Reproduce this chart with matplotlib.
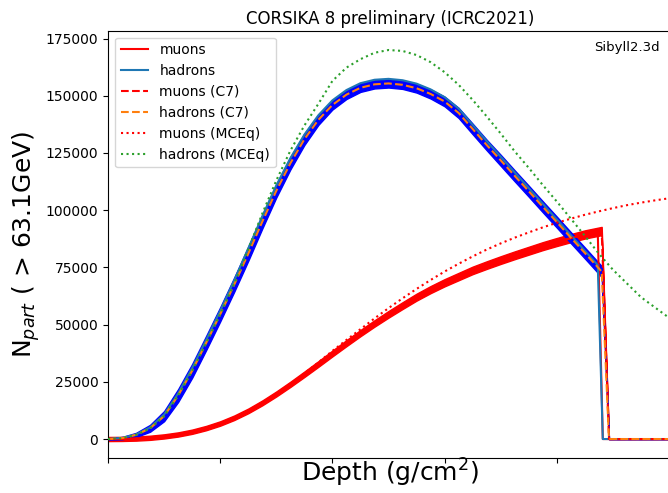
import matplotlib
matplotlib.use('Agg')
import matplotlib.pyplot as plt

# Configuración general
plt.rcParams['font.family'] = 'DejaVu Sans'
plt.rcParams['font.size'] = 10

# ============================================================================
# Datos
# ============================================================================
depth = [0, 25, 50, 75, 100, 125, 150, 175, 200, 225, 250, 275, 300, 325, 350,
         375, 400, 425, 450, 475, 500, 525, 550, 575, 600, 625, 650, 675, 700,
         725, 750, 775, 800, 825, 850]

# CORSIKA 8 (fin del perfil en el suelo)
depth_c8 = depth + [873, 882, 1005]
muons_c8 = [0, 50, 200, 550, 1150, 2000, 3200, 4800, 6800, 9300, 12300, 15800,
            19700, 23900, 28300, 32800, 37400, 41900, 46300, 50500, 54500,
            58300, 62000, 65300, 68300, 71000, 73700, 76000, 78200, 80300,
            82300, 84300, 86100, 87800, 89400, 90500, 0, 0]
hadrons_c8 = [0, 500, 2000, 5100, 10700, 19900, 31000, 43300, 56000, 69300,
              83300, 97300, 110800, 122700, 133000, 141500, 148000, 152500,
              155500, 157000, 157400, 156800, 155300, 152800, 149400, 144400,
              137300, 130200, 123400, 116500, 109700, 102800, 96000, 89100,
              82300, 76000, 0, 0]

# CORSIKA 7 (media y dispersión)
depth_c7 = depth + [880, 893, 1005]
muons_c7 = [0, 50, 200, 550, 1150, 2000, 3200, 4800, 6800, 9300, 12300, 15800,
            19700, 23900, 28300, 32800, 37400, 41900, 46300, 50500, 54500,
            58300, 62000, 65300, 68300, 71000, 73700, 76000, 78200, 80300,
            82300, 84300, 86100, 87800, 89400, 90900, 0, 0]
muons_c7_err = [900, 900, 900, 910, 910, 920, 930, 950, 960, 990, 1020, 1060,
                1100, 1140, 1190, 1230, 1280, 1320, 1360, 1400, 1450, 1480,
                1520, 1550, 1580, 1610, 1640, 1660, 1680, 1700, 1720, 1740,
                1760, 1780, 1790, 1800, 0, 0]
hadrons_c7 = [0, 400, 1800, 4700, 10000, 19000, 29800, 42000, 54500, 67500,
              81000, 95000, 108500, 120500, 131000, 139500, 146000, 150500,
              153500, 155000, 155400, 154800, 153300, 150800, 147500, 142500,
              135500, 128500, 121800, 115000, 108300, 101500, 94800, 88000,
              81300, 73200, 0, 0]
hadrons_c7_err = [300, 500, 900, 1500, 2200, 2800, 3000, 3100, 3100, 3100, 3100,
                  3000, 2900, 2700, 2500, 2200, 2000, 1900, 1800, 1800, 1800,
                  1800, 1900, 2000, 2100, 2200, 2300, 2300, 2400, 2400, 2400,
                  2400, 2400, 2400, 2400, 2400, 0, 0]

# MCEq
depth_mceq = [0, 25, 50, 75, 100, 125, 150, 175, 200, 225, 250, 275, 300, 325,
              350, 375, 400, 425, 450, 475, 500, 525, 550, 575, 600, 625, 650,
              675, 700, 725, 750, 775, 800, 825, 850, 875, 900, 925, 950, 975,
              1000]
muons_mceq = [0, 50, 200, 550, 1150, 2000, 3200, 4800, 6800, 9300, 12300, 15800,
              19800, 24100, 28700, 33500, 38500, 43300, 48000, 52700, 57200,
              61500, 65600, 69500, 73200, 76600, 79800, 82800, 85500, 88000,
              90300, 92500, 94500, 96300, 98000, 99500, 100900, 102200, 103300,
              104300, 105200]
hadrons_mceq = [0, 400, 1800, 4700, 10000, 19000, 29800, 42000, 54500, 67800,
                83000, 98500, 113000, 126000, 137000, 146500, 156500, 162300,
                166000, 168800, 170000, 169600, 167800, 164700, 160300, 154800,
                148200, 141000, 133500, 125700, 118500, 111000, 103800, 96300,
                88800, 81000, 74000, 68000, 62000, 57500, 53000]

# ============================================================================
# Gráfico
# ============================================================================
fig = plt.figure(figsize=(6.68, 4.93), dpi=100)
ax = fig.add_axes([0.1617, 0.070, 0.844, 0.868])

m_lo = [m - e for m, e in zip(muons_c7, muons_c7_err)]
m_hi = [m + e for m, e in zip(muons_c7, muons_c7_err)]
h_lo = [h - e for h, e in zip(hadrons_c7, hadrons_c7_err)]
h_hi = [h + e for h, e in zip(hadrons_c7, hadrons_c7_err)]

ax.plot(depth_c8, muons_c8, color='red', lw=1.5, label='muons', zorder=3)
ax.plot(depth_c8, hadrons_c8, color='C0', lw=1.5, label='hadrons', zorder=3)
ax.plot(depth_c7, muons_c7, 'r--', lw=1.5, label='muons (C7)', zorder=4)
ax.plot(depth_c7, hadrons_c7, color='C1', ls='--', lw=1.5,
        label='hadrons (C7)', zorder=4)
ax.plot(depth_mceq, muons_mceq, 'r:', lw=1.5, label='muons (MCEq)', zorder=5)
ax.plot(depth_mceq, hadrons_mceq, color='C2', ls=':', lw=1.5,
        label='hadrons (MCEq)', zorder=5)

# bandas de dispersión C7
ax.fill_between(depth_c7, m_lo, m_hi, color='red', zorder=2)
ax.fill_between(depth_c7, h_lo, h_hi, color='blue', zorder=2)

ax.set_xlim(0, 1005)
ax.set_ylim(-8500, 178500)
ax.set_xticks([0, 200, 400, 600, 800, 1000])
ax.set_xticklabels([])
ax.set_yticks([0, 25000, 50000, 75000, 100000, 125000, 150000, 175000])

ax.set_xlabel('Depth (g/cm$^2$)', fontsize=18, labelpad=-8)
ax.set_ylabel(r'N$_{part}$ ( > 63.1GeV)', fontsize=18, labelpad=3)
ax.set_title('CORSIKA 8 preliminary (ICRC2021)', fontsize=12, pad=5)
ax.text(0.979, 0.96, 'Sibyll2.3d', transform=ax.transAxes,
        ha='right', va='center', fontsize=9.5)
ax.legend(loc='upper left')

plt.savefig('out.png', dpi=100)
